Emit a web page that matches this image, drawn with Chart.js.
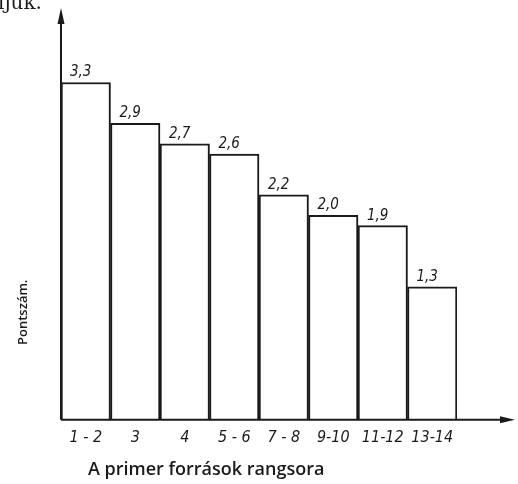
<!DOCTYPE html>
<html>
<head>
<meta charset="utf-8">
<script src="https://cdn.jsdelivr.net/npm/chart.js@4"></script>
<style>
  html, body { margin: 0; padding: 0; background: #fff; }
  #wrap { width: 518px; height: 484px; position: relative; }
</style>
</head>
<body>
<div id="wrap"><canvas id="rank-chart"></canvas></div>
<script>
const ranks = ['1 - 2', '3', '4', '5 - 6', '7 - 8', '9-10', '11-12', '13-14'];
const points = [3.3, 2.9, 2.7, 2.6, 2.2, 2.0, 1.9, 1.3];
const pointLabels = ['3,3', '2,9', '2,7', '2,6', '2,2', '2,0', '1,9', '1,3'];

const yTitle = 'Pontszám.';
const xTitle = 'A primer források rangsora';

const ink = '#1a1a1a';

// arrows, value labels and axis titles
const drawExtras = {
  id: 'drawExtras',
  afterDraw(chart) {
    const ctx = chart.ctx;
    const area = chart.chartArea;
    ctx.save();
    ctx.strokeStyle = ink;
    ctx.fillStyle = ink;
    ctx.lineWidth = 2;

    // y axis line with arrow
    ctx.beginPath();
    ctx.moveTo(area.left, area.bottom);
    ctx.lineTo(area.left, area.top);
    ctx.stroke();
    ctx.beginPath();
    ctx.moveTo(area.left, area.top - 6);
    ctx.lineTo(area.left - 3.5, area.top + 10);
    ctx.lineTo(area.left + 3.5, area.top + 10);
    ctx.closePath();
    ctx.fill();

    // x axis line with arrow
    const xEnd = 515;
    ctx.beginPath();
    ctx.moveTo(area.left, area.bottom);
    ctx.lineTo(xEnd - 8, area.bottom);
    ctx.stroke();
    ctx.beginPath();
    ctx.moveTo(xEnd, area.bottom);
    ctx.lineTo(xEnd - 15, area.bottom - 3.5);
    ctx.lineTo(xEnd - 15, area.bottom + 3.5);
    ctx.closePath();
    ctx.fill();

    // value labels on bars
    const meta = chart.getDatasetMeta(0);
    ctx.font = 'italic 15px "DejaVu Sans Condensed", "DejaVu Sans", sans-serif';
    ctx.textAlign = 'left';
    ctx.textBaseline = 'alphabetic';
    meta.data.forEach((bar, i) => {
      const left = bar.x - bar.width / 2;
      ctx.fillText(pointLabels[i], left + 9, bar.y - 6);
    });

    // titles
    ctx.font = '600 18px "Open Sans", "Noto Sans", sans-serif';
    ctx.textAlign = 'left';
    ctx.fillText(xTitle, 88, 475);

    ctx.save();
    ctx.translate(27, 345);
    ctx.rotate(-Math.PI / 2);
    ctx.font = '600 13px "Open Sans", "Noto Sans", sans-serif';
    ctx.fillText(yTitle, 0, 0);
    ctx.restore();

    // cut-off text from the page above
    ctx.font = '20px "DejaVu Serif", serif';
    ctx.fillText('ljuk.', -2, 9);

    ctx.restore();
  }
};

const config = {
  type: 'bar',
  data: {
    labels: ranks,
    datasets: [{
      data: points,
      backgroundColor: '#ffffff',
      borderColor: ink,
      borderWidth: 2,
      borderSkipped: 'bottom',
      barPercentage: 1,
      categoryPercentage: 1
    }]
  },
  options: {
    responsive: true,
    maintainAspectRatio: false,
    animation: false,
    layout: {
      padding: { top: 14, bottom: 29, left: 61, right: 61 }
    },
    plugins: {
      legend: { display: false },
      tooltip: { enabled: false }
    },
    scales: {
      x: {
        grid: { display: false, drawTicks: false },
        border: { display: false },
        ticks: {
          color: ink,
          padding: 8,
          maxRotation: 0,
          autoSkip: false,
          font: { family: '"DejaVu Sans Condensed", "DejaVu Sans", sans-serif', style: 'italic', size: 16 }
        }
      },
      y: {
        min: 0,
        max: 3.97,
        display: false,
        grid: { display: false }
      }
    }
  },
  plugins: [drawExtras]
};

const rankChart = new Chart(document.getElementById('rank-chart'), config);
</script>
</body>
</html>
